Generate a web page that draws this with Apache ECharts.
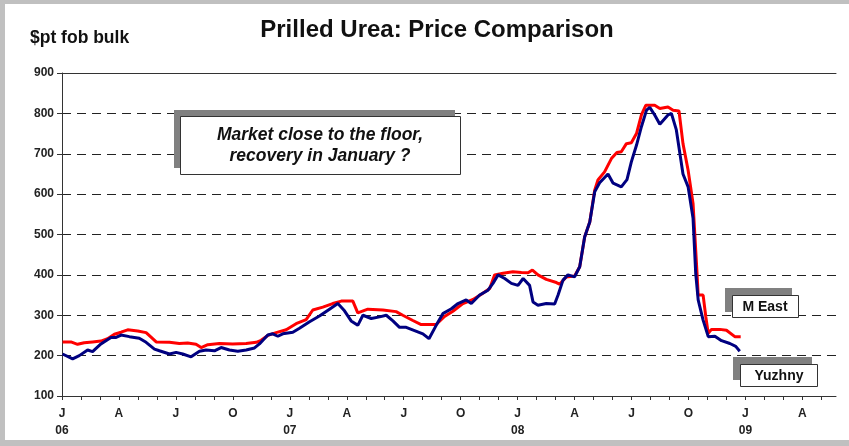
<!DOCTYPE html>
<html>
<head>
<meta charset="utf-8">
<script src="https://cdn.jsdelivr.net/npm/echarts@6/dist/echarts.min.js"></script>
<style>
html,body{margin:0;padding:0;background:#fff;}
#chart{width:849px;height:446px;}
</style>
</head>
<body>
<div id="chart"></div>
<script>
// x values are months since January 2006 (fractional), y values in $/t
var monthLetters = ['J','F','M','A','M','J','J','A','S','O','N','D'];
var yearLabels = ['06','07','08','09'];
var yTicks = [100, 200, 300, 400, 500, 600, 700, 800, 900];

var mEastX = [0.03,0.47,0.82,1.17,1.61,2.05,2.4,2.76,3.11,3.46,3.99,4.43,4.69,4.96,5.66,6.18,6.62,7.06,7.33,7.68,8.29,8.99,9.7,10.23,10.49,10.84,11.28,11.81,12.33,12.86,13.21,13.74,14.26,14.71,15.32,15.58,16.11,16.9,17.6,17.95,18.48,18.92,19.71,20.15,20.59,21.12,21.65,22.09,22.53,22.79,23.23,23.75,24.2,24.55,24.78,25.07,25.51,26.04,26.21,26.56,27.0,27.27,27.53,27.8,28.06,28.23,28.58,28.94,29.23,29.46,29.73,29.99,30.26,30.52,30.75,31.22,31.49,31.92,32.19,32.5,32.71,32.98,33.24,33.45,33.51,33.77,33.91,34.04,34.21,34.65,35.0,35.44,35.75];
var mEastY = [234,234,228,232,234,236,242,253,258,264,261,257,246,234,233,230,231,228,220,227,230,229,230,233,238,250,257,264,279,289,313,320,329,335,335,306,315,313,309,300,287,277,277,297,310,329,339,352,366,400,404,408,406,405,412,400,389,381,377,395,397,420,494,531,610,635,655,688,703,705,725,727,750,796,820,820,812,816,808,806,725,659,577,404,350,350,297,255,265,265,263,247,247];

var yuzhnyX = [0.03,0.56,0.91,1.35,1.61,2.05,2.58,2.85,3.11,3.55,4.07,4.43,4.87,5.13,5.66,6.01,6.36,6.8,7.24,7.59,8.03,8.38,8.82,9.26,9.7,10.14,10.4,10.84,11.1,11.37,11.63,12.16,12.51,13.04,13.56,14.09,14.53,14.88,15.23,15.58,15.85,16.29,16.73,17.08,17.43,17.78,18.13,18.57,19.01,19.33,19.71,20.06,20.51,20.86,21.29,21.56,22.0,22.44,22.7,22.97,23.32,23.67,24.02,24.29,24.63,24.81,25.07,25.51,25.95,26.13,26.39,26.65,27.0,27.27,27.53,27.8,28.06,28.32,28.76,29.03,29.46,29.76,29.99,30.26,30.52,30.79,30.96,31.22,31.49,31.92,32.1,32.36,32.71,32.98,33.24,33.38,33.51,33.77,34.04,34.39,34.74,35.18,35.49,35.7];
var yuzhnyY = [204,192,200,214,210,229,245,245,251,247,243,233,216,212,204,208,204,197,211,214,212,220,214,211,214,219,229,251,254,248,254,258,268,284,298,315,329,311,286,275,300,292,296,300,286,270,270,262,254,242,275,304,316,329,338,329,350,362,379,400,391,379,374,391,374,333,325,329,328,350,387,400,395,420,494,531,606,628,650,627,618,636,680,721,767,808,815,796,773,796,800,759,650,618,540,404,338,288,247,248,237,230,223,211];

function pairs(xs, ys){ return xs.map(function(x,i){ return [x, ys[i]]; }); }

var chart = echarts.init(document.getElementById('chart'), null, {renderer:'canvas'});
var font = 'Liberation Sans, Arial, sans-serif';
var axisColor = '#333';

var option = {
  animation: false,
  backgroundColor: '#fff',
  grid: {left: 62, right: 13, top: 73, bottom: 50, containLabel: false},
  xAxis: [{
    type: 'value', min: 0, max: 40.77, interval: 1,
    axisLine: {show: true, lineStyle: {color: axisColor, width: 1}},
    axisTick: {show: true, length: 4, lineStyle: {color: axisColor}},
    splitLine: {show: false},
    axisLabel: {
      show: true, showMaxLabel: false, showMinLabel: true, margin: 9,
      color: '#222', fontFamily: font, fontWeight: 'bold', fontSize: 12, lineHeight: 17,
      formatter: function(v){
        var m = Math.round(v);
        if (Math.abs(v - m) > 1e-6 || m % 3 !== 0) return '';
        var s = monthLetters[m % 12];
        if (m % 12 === 0) s += '\n' + yearLabels[m / 12];
        return s;
      }
    }
  }, {
    type: 'value', position: 'top', min: 0, max: 40.77,
    axisLine: {show: true, onZero: false, lineStyle: {color: axisColor, width: 1}},
    axisTick: {show: false}, axisLabel: {show: false}, splitLine: {show: false}
  }],
  yAxis: {
    type: 'value', min: yTicks[0], max: yTicks[yTicks.length-1], interval: 100,
    axisLine: {show: true, lineStyle: {color: axisColor, width: 1}},
    axisTick: {show: true, length: 5, lineStyle: {color: axisColor}},
    axisLabel: {color: '#222', fontFamily: font, fontWeight: 'bold', fontSize: 12, margin: 8},
    splitLine: {show: true, lineStyle: {color: '#222', width: 1, type: [9, 6]}}
  },
  series: [{
    name: 'M East', type: 'line', data: pairs(mEastX, mEastY), xAxisIndex: 0,
    showSymbol: false, symbol: 'none', smooth: false,
    lineStyle: {color: '#ff0000', width: 3}, z: 2
  }, {
    name: 'Yuzhny', type: 'line', data: pairs(yuzhnyX, yuzhnyY), xAxisIndex: 0,
    showSymbol: false, symbol: 'none', smooth: false,
    lineStyle: {color: '#000080', width: 3}, z: 3
  }],
  graphic: [
    // outer frame bands
    {type:'rect', shape:{x:0,y:0,width:849,height:4}, style:{fill:'#c0c0c0'}, silent:true},
    {type:'rect', shape:{x:0,y:0,width:5,height:446}, style:{fill:'#c0c0c0'}, silent:true},
    {type:'rect', shape:{x:0,y:440,width:849,height:6}, style:{fill:'#c0c0c0'}, silent:true},
    // titles
    {type:'text', x: 437, y: 30, style:{text:'Prilled Urea: Price Comparison', fill:'#111', font:'bold 24px ' + font, textAlign:'center', textVerticalAlign:'middle'}},
    {type:'text', x: 30, y: 38, style:{text:'$pt fob bulk', fill:'#111', font:'bold 17.5px ' + font, textAlign:'left', textVerticalAlign:'middle'}},
    // annotation box
    {type:'rect', shape:{x:174,y:110,width:281,height:58}, style:{fill:'#808080'}, z: 10},
    {type:'rect', shape:{x:180.5,y:116.5,width:280,height:58}, style:{fill:'#fff', stroke:'#333', lineWidth:1}, z: 11},
    {type:'text', x: 320, y: 135, z: 12, style:{text:'Market close to the floor,', fill:'#111', font:'italic bold 17.5px ' + font, textAlign:'center', textVerticalAlign:'middle'}},
    {type:'text', x: 320, y: 156, z: 12, style:{text:'recovery in January ?', fill:'#111', font:'italic bold 17.5px ' + font, textAlign:'center', textVerticalAlign:'middle'}},
    // M East label
    {type:'rect', shape:{x:725,y:288,width:67,height:24}, style:{fill:'#808080'}, z: 10},
    {type:'rect', shape:{x:732.5,y:295.5,width:66,height:22}, style:{fill:'#fff', stroke:'#333', lineWidth:1}, z: 11},
    {type:'text', x: 765, y: 307, z: 12, style:{text:'M East', fill:'#111', font:'bold 14px ' + font, textAlign:'center', textVerticalAlign:'middle'}},
    // Yuzhny label
    {type:'rect', shape:{x:733,y:357,width:79,height:23}, style:{fill:'#808080'}, z: 10},
    {type:'rect', shape:{x:740.5,y:364.5,width:77,height:22}, style:{fill:'#fff', stroke:'#333', lineWidth:1}, z: 11},
    {type:'text', x: 779, y: 376, z: 12, style:{text:'Yuzhny', fill:'#111', font:'bold 14px ' + font, textAlign:'center', textVerticalAlign:'middle'}}
  ]
};
chart.setOption(option);
</script>
</body>
</html>
